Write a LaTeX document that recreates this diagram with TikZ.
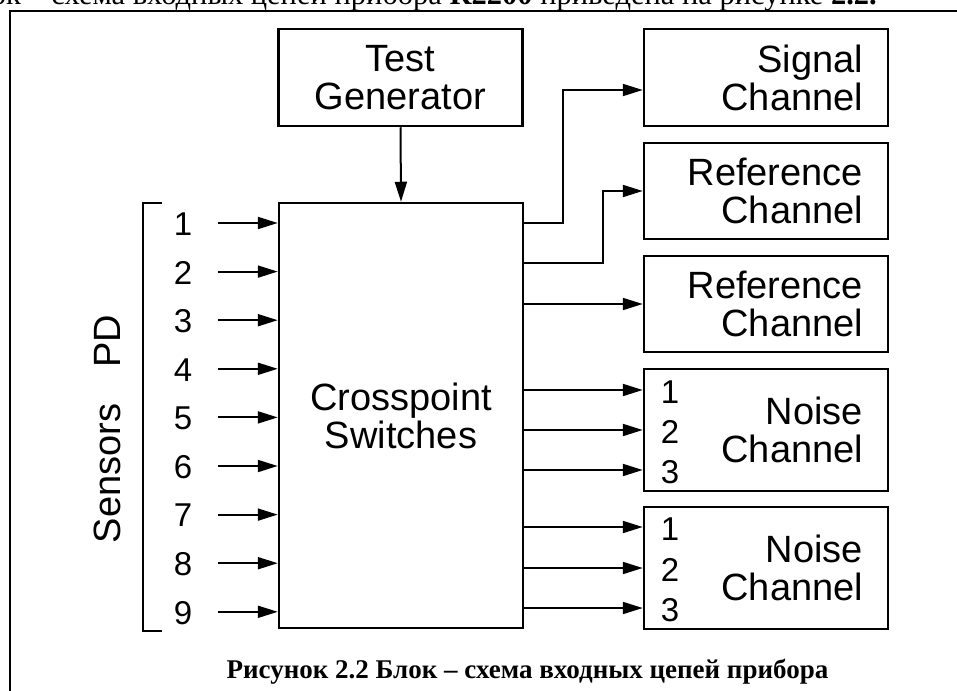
\documentclass[tikz,border=0pt]{standalone}
\usepackage{fontspec}
\setmainfont{Liberation Sans}
\newfontfamily\seriffont{Liberation Serif}
\usetikzlibrary{arrows.meta}
\newcommand\labfont{\fontsize{38}{38}\selectfont}
\newcommand\digfont{\fontsize{33}{33}\selectfont}
\begin{document}
\begin{tikzpicture}[x=1pt,y=-1pt,
  box/.style={draw, line width=2.5pt, minimum width=244pt, text width=194pt,
    inner xsep=25pt, inner ysep=0pt, align=right, font=\labfont},
  cbox/.style={box, align=center},
  arr/.style={line width=2pt, -{Triangle[length=20pt,width=12pt]}},
  wire/.style={line width=2pt},
  dig/.style={font=\digfont, inner sep=0pt}]
\useasboundingbox (0,0) rectangle (957,690);
\clip (0,0) rectangle (957,690);
% cut-off text line above the figure
\node[anchor=base east, font=\seriffont\fontsize{30.5}{30.5}\selectfont, inner sep=0pt] (topline) at (877,5)
  {Блок – схема входных цепей прибора \textbf{R2200} приведена на рисунке \textbf{2.2.}};
% frame
\draw[line width=2pt] (10,700) -- (10,11) -- (970,11);
% boxes
\node[cbox, minimum height=97pt] (TG) at (400.5,77.5) {Test\\Generator};
\node[cbox, minimum height=425pt] (CP) at (401,415.5) {Crosspoint\\Switches};
\node[box, minimum height=97pt] (SC) at (766,77.5) {Signal\\Channel};
\node[box, minimum height=96pt] (R1) at (766,191) {Reference\\Channel};
\node[box, minimum height=96pt] (R2) at (766,304) {Reference\\Channel};
\node[box, minimum height=122pt] (N1) at (766,430) {Noise\\Channel};
\node[box, minimum height=122pt] (N2) at (766,568) {Noise\\Channel};
% test generator to crosspoint
\draw[arr] (TG.south) -- (CP.north);
% outputs
\draw[arr] (CP.east |- 0,223) -- (563,223) -- (563,90) -- (SC.west |- 0,90);
\draw[arr] (CP.east |- 0,263) -- (603,263) -- (603,191) -- (R1.west);
\draw[arr] (CP.east |- R2.west) -- (R2.west);
\foreach \y/\d [count=\i] in {390/1,430/2,470/3}{
  \draw[arr] (CP.east |- 0,\y) -- (N1.west |- 0,\y);
  \node[dig] (na\i) at (670,\y+2) {\d};
}
\foreach \y/\d [count=\i] in {527/1,568/2,608/3}{
  \draw[arr] (CP.east |- 0,\y) -- (N2.west |- 0,\y);
  \node[dig] (nb\i) at (670,\y+2) {\d};
}
% inputs
\foreach \i in {1,...,9}{
  \pgfmathsetmacro\yy{223+(\i-1)*48.6}
  \coordinate (s\i) at (218,\yy);
  \node[dig] (l\i) at (183,\yy+1) {\i};
  \draw[arr] (s\i) -- (CP.west |- s\i);
}
% bracket
\draw[wire] (162,203) -- (143,203) -- (143,631) -- (162,631);
\node[rotate=90, anchor=base, font=\labfont, inner sep=0pt] (SPD) at (120,429) {Sensors\hspace{36pt}PD};
% caption
\node[anchor=base, font=\seriffont\bfseries\fontsize{27}{27}\selectfont, inner sep=0pt] (cap) at (527.5,678)
  {Рисунок 2.2 Блок – схема входных цепей прибора};
\end{tikzpicture}
\end{document}
